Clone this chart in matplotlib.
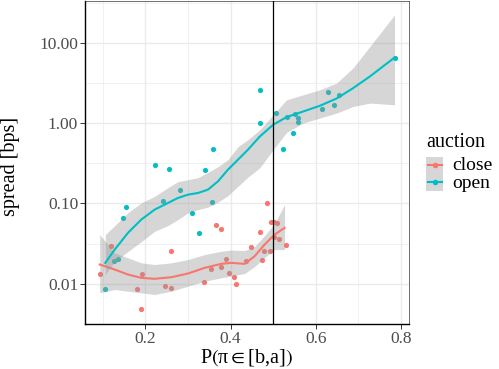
import matplotlib.pyplot as plt
from matplotlib.patches import Rectangle
from matplotlib.lines import Line2D

plt.rcParams.update({
    "font.family": "Liberation Serif",
    "mathtext.fontset": "custom",
    "mathtext.rm": "Liberation Serif",
    "mathtext.it": "Liberation Serif:italic",
    "mathtext.fallback": "stix",
    "figure.facecolor": "white",
})

# --- Daten ---
open_x = [0.106, 0.126, 0.137, 0.148, 0.155, 0.223, 0.242, 0.255, 0.282, 0.310,
          0.325, 0.341, 0.356, 0.359, 0.470, 0.470, 0.506, 0.523, 0.533, 0.547,
          0.552, 0.559, 0.558, 0.615, 0.628, 0.643, 0.654, 0.785]
open_y = [0.0087, 0.0191, 0.0202, 0.0653, 0.0895, 0.301, 0.106, 0.268, 0.147, 0.0753,
          0.0434, 0.258, 0.104, 0.480, 2.59, 0.99, 1.33, 0.48, 1.20, 0.743,
          1.28, 1.15, 1.02, 1.51, 2.43, 1.69, 2.23, 6.53]

close_x = [0.093, 0.120, 0.181, 0.189, 0.193, 0.246, 0.260, 0.260, 0.338, 0.355,
           0.366, 0.377, 0.378, 0.389, 0.396, 0.409, 0.412, 0.436, 0.448, 0.470,
           0.473, 0.479, 0.485, 0.492, 0.494, 0.503, 0.510, 0.502, 0.513, 0.530]
close_y = [0.0134, 0.0293, 0.0085, 0.0049, 0.0133, 0.0095, 0.0259, 0.0089, 0.0104, 0.0154,
           0.0545, 0.0163, 0.0482, 0.0202, 0.0138, 0.0122, 0.0099, 0.0193, 0.0285, 0.0443,
           0.0199, 0.0257, 0.101, 0.0257, 0.0582, 0.0589, 0.0573, 0.0384, 0.0362, 0.0305]

# Glättung (loess) mit Konfidenzband
open_sx = [0.1062, 0.1283, 0.1594, 0.1906, 0.2220, 0.2532, 0.2767, 0.3001, 0.3236, 0.3470,
           0.3705, 0.3939, 0.4174, 0.4408, 0.4689, 0.5001, 0.5315, 0.5705, 0.6096, 0.6488,
           0.6877, 0.7268, 0.7848]
open_fit = [0.01823, 0.02667, 0.04303, 0.06295, 0.08375, 0.1014, 0.1170, 0.1286, 0.1349, 0.1484,
            0.1881, 0.2630, 0.3500, 0.4659, 0.6817, 0.9526, 1.187, 1.393, 1.640, 2.021,
            2.722, 3.793, 6.530]
open_hi = [0.04096, 0.05298, 0.07686, 0.1014, 0.1225, 0.1571, 0.1866, 0.1976, 0.2091, 0.2433,
           0.2865, 0.3500, 0.5078, 0.6206, 0.8257, 1.268, 1.947, 2.247, 2.593, 3.140,
           4.864, 8.944, 22.14]
open_lo = [0.01305, 0.01892, 0.02519, 0.03353, 0.04499, 0.05298, 0.06295, 0.07621, 0.08375, 0.08991,
           0.1038, 0.1250, 0.1631, 0.2122, 0.2784, 0.4659, 0.7642, 1.0, 1.154, 1.331,
           1.608, 1.772, 1.688]

close_sx = [0.0931, 0.1283, 0.1594, 0.1906, 0.2220, 0.2610, 0.3001, 0.3393, 0.3782, 0.4016,
            0.4331, 0.4565, 0.4800, 0.5034, 0.5268]
close_fit = [0.01738, 0.01505, 0.01305, 0.01187, 0.01154, 0.01208, 0.01343, 0.01580, 0.01771, 0.01823,
             0.01771, 0.02203, 0.03077, 0.04096, 0.04962]
close_hi = [0.04096, 0.02427, 0.02104, 0.01823, 0.01738, 0.01823, 0.02003, 0.02311, 0.02541, 0.02630,
            0.02594, 0.02905, 0.03983, 0.05611, 0.09663]
close_lo = [0.00773, 0.00850, 0.00809, 0.00773, 0.00737, 0.00809, 0.00934, 0.01077, 0.01187, 0.01250,
            0.01343, 0.01640, 0.02122, 0.02667, 0.02667]

x_ticks = [0.2, 0.4, 0.6, 0.8]
x_tick_labels = ["0.2", "0.4", "0.6", "0.8"]
x_minor = [0.1, 0.3, 0.5, 0.7]
y_ticks = [0.01, 0.1, 1, 10]
y_tick_labels = ["0.01", "0.10", "1.00", "10.00"]
y_minor = [10 ** -2.5, 10 ** -1.5, 10 ** -0.5, 10 ** 0.5, 10 ** 1.5]
threshold = 0.5

series = ["close", "open"]
colors = {"close": "#F8766D", "open": "#00BFC4"}
ribbon = "#999999"

W, H = 499, 369
fig = plt.figure(figsize=(W / 100, H / 100), dpi=100)
ax = fig.add_axes([84.7 / W, 45 / H, (409 - 84.7) / W, 323.5 / H])

# Punkte
ax.scatter(close_x, close_y, s=14, color=colors["close"], lw=0, zorder=2)
ax.scatter(open_x, open_y, s=14, color=colors["open"], lw=0, zorder=2)

# Glättungen
ax.fill_between(close_sx, close_lo, close_hi, color=ribbon, alpha=0.4, lw=0, zorder=3)
ax.plot(close_sx, close_fit, color=colors["close"], lw=1.5, zorder=4)
ax.fill_between(open_sx, open_lo, open_hi, color=ribbon, alpha=0.4, lw=0, zorder=5)
ax.plot(open_sx, open_fit, color=colors["open"], lw=1.5, zorder=6)

ax.axvline(threshold, color="black", lw=0.9, zorder=7)

# Achsen
ax.set_yscale("log")
ax.set_xlim(0.0579, 0.8188)
ax.set_ylim(0.00321, 33.5)
ax.set_xticks(x_ticks, labels=x_tick_labels)
ax.set_xticks(x_minor, minor=True)
ax.set_yticks(y_ticks, labels=y_tick_labels)
ax.set_yticks(y_minor, minor=True)
ax.yaxis.set_minor_formatter(plt.NullFormatter())

ax.grid(which="major", color="#EBEBEB", lw=1.0, zorder=0)
ax.grid(which="minor", color="#EBEBEB", lw=0.5, zorder=0)
ax.set_axisbelow(True)

ax.tick_params(which="major", length=3.3, width=0.7, color="#333333",
               labelcolor="#4D4D4D", labelsize=12.5)
ax.tick_params(axis="y", pad=1.4)
ax.tick_params(axis="x", pad=2.0)
ax.tick_params(which="minor", length=0)

for side in ["top", "right"]:
    ax.spines[side].set_color("#333333")
    ax.spines[side].set_linewidth(0.5)
for side in ["left", "bottom"]:
    ax.spines[side].set_color("black")
    ax.spines[side].set_linewidth(1.0)

fig.text(247 / W, 1 - 357 / H, r"$\mathrm{P}\left(\mathrm{π}\in[\mathrm{b},\!\mathrm{a}]\right)$",
         ha="center", va="center", fontsize=14.5)
fig.text(11 / W, 1 - 166 / H, "spread [bps]", rotation=90,
         ha="center", va="center", fontsize=14.5)

# Legende (manuell wie bei ggplot)
fig.text(426 / W, 1 - 146.7 / H, "auction", ha="left", va="baseline", fontsize=14.5)
key_top = 156.7
label_base = [169.5, 188.0]
for i, name in enumerate(series):
    y0 = key_top + i * 17
    fig.add_artist(Rectangle((426 / W, 1 - (y0 + 17) / H), 17 / W, 17 / H,
                             transform=fig.transFigure, fc=ribbon, alpha=0.4, ec="none"))
    yc = 1 - (y0 + 8.5) / H
    fig.add_artist(Line2D([427.5 / W, 441.5 / W], [yc, yc], transform=fig.transFigure,
                          color=colors[name], lw=1.5))
    fig.add_artist(Line2D([434.5 / W], [yc], transform=fig.transFigure, marker="o",
                          ms=4, mew=0, color=colors[name]))
    fig.text(452 / W, 1 - label_base[i] / H, name, ha="left", va="baseline", fontsize=14)

fig.savefig("out.png", dpi=100)
